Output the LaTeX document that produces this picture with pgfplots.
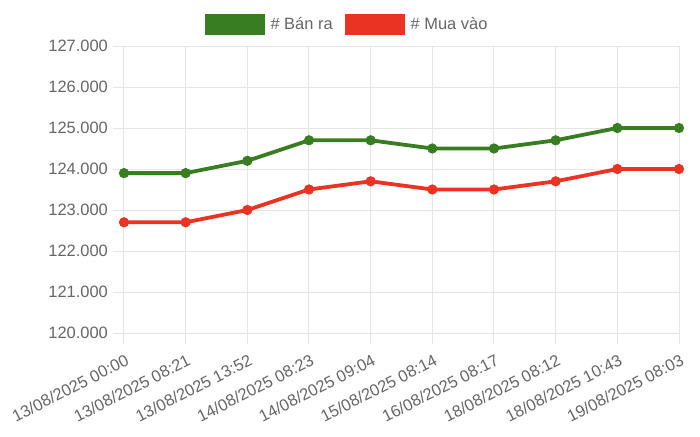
\documentclass[border=0pt]{standalone}
\usepackage{fontspec}
\setmainfont{Liberation Sans}
\usepackage{pgfplots}
\pgfplotsset{compat=1.18}
\definecolor{cgreen}{RGB}{56,125,34}
\definecolor{cred}{RGB}{235,51,36}
\definecolor{cgrid}{RGB}{229,229,229}
\definecolor{ctext}{RGB}{102,102,102}
\begin{document}
\begin{tikzpicture}
\begin{axis}[
  scale only axis, width=555bp, height=287bp,
  xmin=0, xmax=9, ymin=120, ymax=127,
  xtick={0,...,9},
  xticklabels={13/08/2025 00:00,13/08/2025 08:21,13/08/2025 13:52,14/08/2025 08:23,14/08/2025 09:04,15/08/2025 08:14,16/08/2025 08:17,18/08/2025 08:12,18/08/2025 10:43,19/08/2025 08:03},
  ytick={120,...,127},
  yticklabel={\pgfmathprintnumber[fixed,fixed zerofill,precision=3,assume math mode=true]{\tick}},
  grid=major, grid style={cgrid, line width=1bp},
  axis line style={cgrid, line width=1bp},
  tick align=outside, major tick length=11bp,
  tick style={cgrid, line width=1bp},
  xtick pos=left, ytick pos=left,
  ticklabel style={font=\fontsize{16.5}{19}\selectfont, text=ctext},
  yticklabel style={inner sep=0pt, xshift=-5bp},
  xticklabel style={xshift=3.5bp, yshift=-15bp, rotate=27, anchor=east, inner sep=0pt},
  legend style={at={(0.4,1.075)}, anchor=center, draw=none, fill=none,
    font=\fontsize{16.5}{19}\selectfont, text=ctext,
    nodes={inner sep=0pt},
    /tikz/every odd column/.append style={column sep=6bp},
    /tikz/every even column/.append style={column sep=12bp}},
  legend columns=2,
]
\addplot[cgreen, line width=3.8bp, mark=*, mark size=4.6bp, mark options={line width=1bp, fill=cgreen},
  legend image code/.code={\draw[fill=cgreen,draw=cgreen,line width=1bp] (0bp,-10bp) rectangle (59bp,10bp);}]
  coordinates {(0,123.9) (1,123.9) (2,124.2) (3,124.7) (4,124.7) (5,124.5) (6,124.5) (7,124.7) (8,125.0) (9,125.0)};
\addlegendentry{\# Bán ra}
\addplot[cred, line width=3.8bp, mark=*, mark size=4.6bp, mark options={line width=1bp, fill=cred},
  legend image code/.code={\draw[fill=cred,draw=cred,line width=1bp] (0bp,-10bp) rectangle (59bp,10bp);}]
  coordinates {(0,122.7) (1,122.7) (2,123.0) (3,123.5) (4,123.7) (5,123.5) (6,123.5) (7,123.7) (8,124.0) (9,124.0)};
\addlegendentry{\# Mua vào}
\end{axis}
\pgfresetboundingbox
\path[use as bounding box] (-124bp,-104bp) rectangle (576bp,333bp);
\end{tikzpicture}
\end{document}
